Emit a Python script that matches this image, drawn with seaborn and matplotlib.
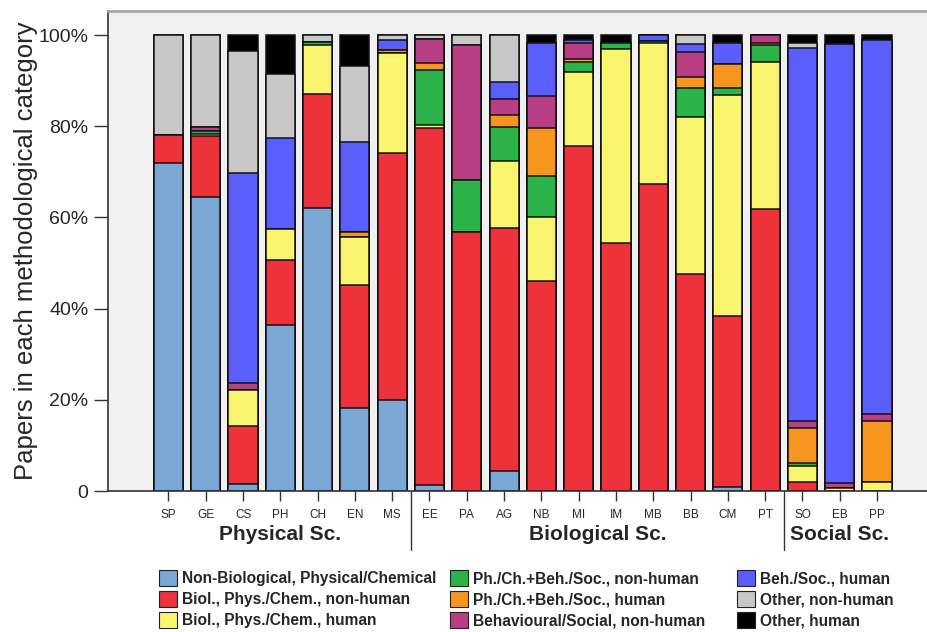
import matplotlib
matplotlib.use("Agg")
import matplotlib.pyplot as plt
import matplotlib.patches as mpatches
import matplotlib.transforms as mtransforms
import numpy as np
import pandas as pd
import seaborn as sns

disciplines = ["SP", "GE", "CS", "PH", "CH", "EN", "MS",
               "EE", "PA", "AG", "NB", "MI", "IM", "MB", "BB", "CM", "PT",
               "SO", "EB", "PP"]

categories = ["Non-Biological, Physical/Chemical",
              "Biol., Phys./Chem., non-human",
              "Biol., Phys./Chem., human",
              "Ph./Ch.+Beh./Soc., non-human",
              "Ph./Ch.+Beh./Soc., human",
              "Behavioural/Social, non-human",
              "Beh./Soc., human",
              "Other, non-human",
              "Other, human"]

non_bio        = [72.0, 64.5, 1.6, 36.5, 62.0, 18.1, 19.9, 1.3, 0, 4.4, 0, 0, 0, 0, 0, 0.9, 0, 0, 0, 0]
bio_nonhuman   = [6.0, 13.3, 12.6, 14.1, 25.2, 27.2, 54.3, 78.3, 56.9, 53.3, 46.1, 75.6, 54.4, 67.4, 47.7, 37.5, 61.8, 2.0, 0, 0]
bio_human      = [0, 0.6, 7.9, 6.9, 10.6, 10.4, 21.9, 0.8, 0, 14.6, 14.0, 16.4, 42.6, 30.8, 34.4, 48.4, 32.4, 3.5, 0.7, 2.0]
mix_nonhuman   = [0, 0.6, 0, 0, 0.6, 0, 0, 11.9, 11.3, 7.5, 9.1, 2.1, 1.2, 0.6, 6.2, 1.5, 3.6, 0.7, 0, 0]
mix_human      = [0, 0, 0, 0, 0, 1.2, 0.6, 1.5, 0, 2.6, 10.4, 0.7, 0, 0, 2.6, 5.3, 0.5, 7.6, 0, 13.4]
behav_nonhuman = [0, 0.8, 1.6, 0, 0, 0, 0, 5.3, 29.7, 3.7, 7.0, 3.5, 0, 0, 5.3, 0, 1.7, 1.5, 1.0, 1.6]
behsoc_human   = [0, 0, 46.1, 19.9, 0, 19.6, 2.3, 0, 0, 3.7, 11.7, 0.6, 0, 1.2, 1.8, 4.6, 0, 81.8, 96.3, 82.0]
other_nonhuman = [22.0, 20.2, 26.8, 14.1, 1.6, 16.8, 1.0, 0.9, 2.1, 10.2, 0, 0, 0, 0, 2.0, 0, 0, 1.2, 0, 0]
other_human    = [0, 0, 3.4, 8.5, 0, 6.7, 0, 0, 0, 0, 1.7, 1.1, 1.8, 0, 0, 1.8, 0, 1.7, 2.0, 1.0]

series = [non_bio, bio_nonhuman, bio_human, mix_nonhuman, mix_human,
          behav_nonhuman, behsoc_human, other_nonhuman, other_human]

colors = ["#7BA7D4", "#EE323C", "#FAF56E", "#2BB34A", "#F7961E",
          "#B83E86", "#5A5FFC", "#C8C8C8", "#000000"]

groups = ["Physical Sc.", "Biological Sc.", "Social Sc."]
group_sizes = [7, 10, 3]

df = pd.DataFrame({c: v for c, v in zip(categories, series)}, index=disciplines)
cum = df.cumsum(axis=1)

sns.set_style("white")
plt.rcParams["font.family"] = ["Liberation Sans", "DejaVu Sans"]

fig = plt.figure(figsize=(9.27, 6.32), dpi=100)
ax = fig.add_axes([108 / 927, 1 - 491 / 632, 1 - 108 / 927, (491 - 11) / 632])
ax.set_facecolor("#F0F0F0")

# draw from top layer down so each lower layer overlays the one above
for cat, col in reversed(list(zip(categories, colors))):
    sns.barplot(x=disciplines, y=cum[cat].values, order=disciplines, color=col,
                width=0.78, edgecolor="#111111", linewidth=1.1, saturation=1,
                ax=ax, zorder=2)

ax.set_xlim(-1.62, 20.34)
ax.set_ylim(0, 105.3)
ax.set_yticks([0, 20, 40, 60, 80, 100])
ax.set_yticklabels(["0", "20%", "40%", "60%", "80%", "100%"], fontsize=14)
ax.set_ylabel("Papers in each methodological category", fontsize=18.5, labelpad=2)
ax.yaxis.set_label_coords(-0.086, 0.5)
ax.set_xticks(range(len(disciplines)))
ax.set_xticklabels(disciplines, fontsize=8.5)
ax.tick_params(axis="y", direction="out", length=10, width=1, color="#333333", pad=4, left=True)
ax.tick_params(axis="x", direction="out", length=7, width=1, color="#333333", pad=6, bottom=True)

for s in ["left", "bottom"]:
    ax.spines[s].set_color("#333333")
    ax.spines[s].set_linewidth(1.2)
ax.spines["top"].set_color("#A8A8A8")
ax.spines["top"].set_linewidth(2)
ax.spines["right"].set_visible(False)

# group separators and labels
trans = mtransforms.blended_transform_factory(ax.transData, ax.transAxes)
start = 0
bounds = np.cumsum(group_sizes)
for i, (g, n) in enumerate(zip(groups, group_sizes)):
    center = start + (n - 1) / 2
    ax.text(center, -0.09, g, transform=trans, ha="center", va="center",
            fontsize=15, fontweight="bold")
    if i < len(groups) - 1:
        xb = bounds[i] - 0.5
        ax.plot([xb, xb], [0, -0.123], transform=trans, color="#333333",
                lw=1, clip_on=False)
    start += n

handles = [mpatches.Patch(facecolor=c, edgecolor="#222222", linewidth=0.8) for c in colors]
col_lefts = [159, 450, 737]
for k, xl in enumerate(col_lefts):
    leg = fig.legend(handles[3 * k:3 * k + 3], categories[3 * k:3 * k + 3],
                     loc="center left", bbox_to_anchor=(xl / 927, 1 - 599 / 632),
                     frameon=False, prop={"weight": "bold", "size": 11.2},
                     handlelength=1.15, handleheight=1.2, handletextpad=0.3,
                     labelspacing=0.3, borderpad=0, borderaxespad=0)

fig.savefig("out.png", dpi=100)
